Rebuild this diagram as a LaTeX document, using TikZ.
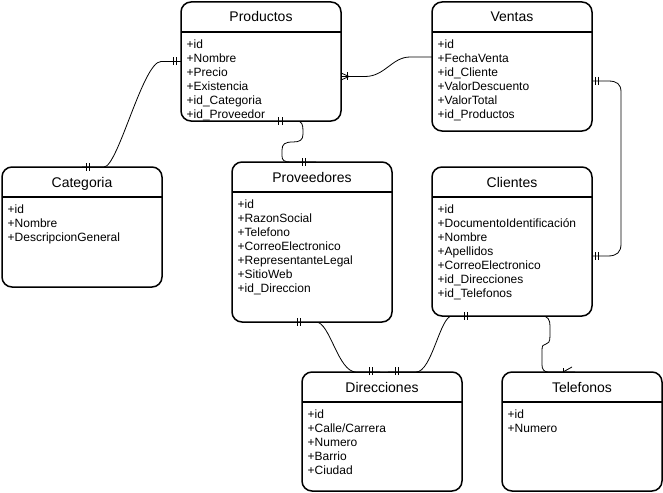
\documentclass[tikz,border=0pt]{standalone}
\usepackage{fontspec}
\setmainfont{Liberation Sans}
\usetikzlibrary{calc, backgrounds}

\begin{document}
\begin{tikzpicture}[
    x=1pt, y=-1pt,
    tablebox/.style={rectangle, draw=black, fill=white, line width=1.5pt,
                minimum width=160pt, rounded corners=10pt, inner sep=0pt,
                outer sep=0pt, anchor=north west},
    titletext/.style={font=\fontsize{14}{16}\selectfont, inner sep=0pt, anchor=base},
    fieldtext/.style={font=\fontsize{12}{14}\selectfont, inner sep=0pt,
                align=left, anchor=north west},
    headline/.style={line width=1.2pt},
    link/.style={line width=0.8pt},
    relmark/.style={line width=0.8pt}
]
    \useasboundingbox (0,0) rectangle (663,492);

    % Tables
    \node[tablebox, minimum height=119pt] (productos) at (181,2) {};
    \node[tablebox, minimum height=129pt] (ventas) at (432,2) {};
    \node[tablebox, minimum height=120pt] (categoria) at (2,167) {};
    \node[tablebox, minimum height=160pt] (proveedores) at (232,162) {};
    \node[tablebox, minimum height=149pt] (clientes) at (432,167) {};
    \node[tablebox, minimum height=119pt] (direcciones) at (302,372) {};
    \node[tablebox, minimum height=119pt] (telefonos) at (502,372) {};

    % Headers
    \foreach \tbl/\ttl in {productos/Productos, ventas/Ventas, categoria/Categoria,
            proveedores/Proveedores, clientes/Clientes, direcciones/Direcciones,
            telefonos/Telefonos} {
        \draw[headline] ($(\tbl.north west)+(0,30)$) -- ($(\tbl.north east)+(0,30)$);
        \node[titletext] (\tbl-title) at ($(\tbl.north)+(0,20)$) {\ttl};
    }

    % Fields
    \node[fieldtext] (productos-fields) at ($(productos.north west)+(5.5,37.5)$)
        {+id\\+Nombre\\+Precio\\+Existencia\\+id\_Categoria\\+id\_Proveedor};
    \node[fieldtext] (ventas-fields) at ($(ventas.north west)+(5.5,37.5)$)
        {+id\\+FechaVenta\\+id\_Cliente\\+ValorDescuento\\+ValorTotal\\+id\_Productos};
    \node[fieldtext] (categoria-fields) at ($(categoria.north west)+(5.5,37.5)$)
        {+id\\+Nombre\\+DescripcionGeneral};
    \node[fieldtext] (proveedores-fields) at ($(proveedores.north west)+(5.5,37.5)$)
        {+id\\+RazonSocial\\+Telefono\\+CorreoElectronico\\+RepresentanteLegal\\+SitioWeb\\+id\_Direccion};
    \node[fieldtext] (clientes-fields) at ($(clientes.north west)+(5.5,37.5)$)
        {+id\\+DocumentoIdentificación\\+Nombre\\+Apellidos\\+CorreoElectronico\\+id\_Direcciones\\+id\_Telefonos};
    \node[fieldtext] (direcciones-fields) at ($(direcciones.north west)+(5.5,37.5)$)
        {+id\\+Calle/Carrera\\+Numero\\+Barrio\\+Ciudad};
    \node[fieldtext] (telefonos-fields) at ($(telefonos.north west)+(5.5,37.5)$)
        {+id\\+Numero};

    % Relations
    \begin{scope}[on background layer]
        \draw[link] (categoria.north) -- ++(22,0)
            .. controls +(14,0) and +(-18,0) .. ($(productos.west)+(-20,0)$) -- (productos.west);
        \draw[link] ($(productos.east)+(0,15)$) -- ++(24,0)
            .. controls +(20,0) and +(-18,0) .. ($(ventas.west)+(-22,-9.5)$) -- ($(ventas.west)+(0,-9.5)$);
        \draw[link] ($(productos.south)+(12,0)$) -- (297,121)
            .. controls (302,121) and (303,125) .. (303,131) -- (303,134)
            .. controls (303,140) and (300,142) .. (293,142)
            .. controls (285,142) and (282,144) .. (282,150) -- (282,156)
            .. controls (282,160) and (284,162) .. (290,162) -- ($(proveedores.north)+(4,0)$);
        \draw[link] ($(ventas.east)+(0,14.5)$) -- (608,81)
            .. controls (617,81) and (621,84) .. (621,92) -- (621,244)
            .. controls (621,252) and (617,256) .. (608,256) -- ($(clientes.east)+(0,14.5)$);
        \draw[link] ($(clientes.south)+(18,0)$) -- (542,316)
            .. controls (548,316) and (550,320) .. (550,326) -- (550,336)
            .. controls (550,342) and (548,344) .. (546,344)
            .. controls (543,344) and (542,346) .. (542,350) -- (542,365)
            .. controls (542,369) and (544,372) .. (548,372) -- ($(telefonos.north)+(-7,0)$);
        \draw[link] ($(proveedores.south)+(-12,0)$) -- (316,322)
            .. controls (330,322) and (338,372) .. (356,372) -- ($(direcciones.north)+(-2,0)$);
        \draw[link] ($(clientes.south)+(-42,0)$) -- (452,316)
            .. controls (440,316) and (432,372) .. (416,372) -- ($(direcciones.north)+(6,0)$);
    \end{scope}

    % Marks
    \foreach \tbl/\dx/\dy in {categoria.north/4/-4, categoria.north/7/-4,
            productos.west/-8/-4, productos.west/-4.5/-4,
            productos.south/17/-4, productos.south/21/-4,
            proveedores.north/-10/-4, proveedores.north/-7/-4,
            ventas.east/3/10.5, ventas.east/6/10.5,
            clientes.east/3/10.5, clientes.east/6/10.5,
            clientes.south/-48/-4, clientes.south/-45/-4,
            proveedores.south/-15/-4, proveedores.south/-12/-4,
            direcciones.north/-13/-5, direcciones.north/-10/-5,
            direcciones.north/13/-5, direcciones.north/16/-5}
        \draw[relmark] ($(\tbl)+(\dx,\dy)$) -- ++(0,8);
    \draw[relmark] ($(productos.east)+(0,11.5)$) -- ($(productos.east)+(8,15)$)
        -- ($(productos.east)+(0,18.5)$);
    \draw[relmark] ($(productos.east)+(6,11)$) -- ++(0,8);
    \draw[relmark] ($(telefonos.north)+(-19,-4)$) -- ++(0,4);
    \draw[relmark] ($(telefonos.north)+(-19,0)$) -- ($(telefonos.north)+(-10,-5)$);
\end{tikzpicture}
\end{document}
